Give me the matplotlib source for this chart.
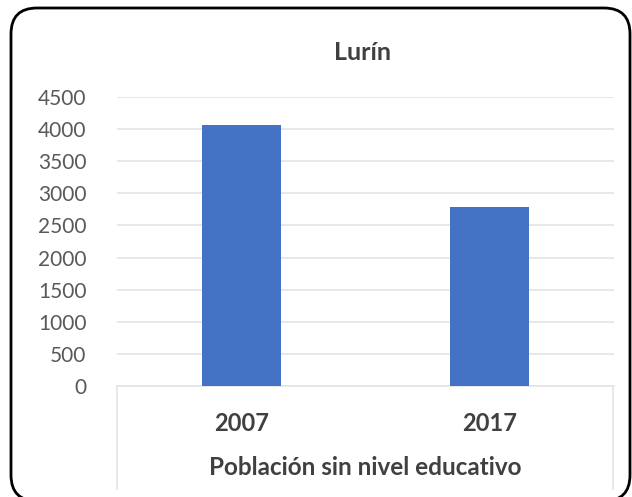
import matplotlib
matplotlib.use("Agg")
import matplotlib.pyplot as plt
import matplotlib.patches as mpatches
from matplotlib.lines import Line2D
import numpy as np

plt.rcParams['font.family'] = ['Lato', 'DejaVu Sans']

years = ['2007', '2017']
poblacion = [4060, 2785]
yticks = [0, 500, 1000, 1500, 2000, 2500, 3000, 3500, 4000, 4500]

BAR = '#4472c4'
TEXT = '#595959'
DARK = '#404040'
GRID = '#e4e4e4'

fig = plt.figure(figsize=(6.32, 4.97), dpi=100)
ax = fig.add_axes([117 / 632, 1 - 386 / 497, 497 / 632, 289 / 497])

x = np.arange(len(years))
ax.bar(x, poblacion, width=0.317, color=BAR, zorder=3)
ax.set_xlim(-0.5, 1.5)
ax.set_ylim(0, 4500)
ax.set_yticks(yticks)
ax.set_yticklabels([str(v) for v in yticks], fontsize=15, color=TEXT)
ax.tick_params(axis='y', length=0, pad=22)
ax.set_xticks(x)
ax.set_xticklabels(years, fontsize=17, fontweight='bold', color=DARK)
ax.tick_params(axis='x', length=0, pad=19)
ax.grid(axis='y', color=GRID, linewidth=1.2, zorder=0)
for s in ['top', 'right', 'left']:
    ax.spines[s].set_visible(False)
ax.spines['bottom'].set_color(GRID)
ax.spines['bottom'].set_linewidth(1.2)

ax.set_xlabel('Población sin nivel educativo', fontsize=17.5, fontweight='bold',
              color=DARK, labelpad=15)
fig.text(363 / 632, 1 - 52 / 497, 'Lurín', ha='center', va='center',
         fontsize=18, fontweight='bold', color=DARK)

# category box lines below the axis
for xp in [117, 613]:
    fig.add_artist(Line2D([xp / 632, xp / 632], [1 - 386 / 497, 1 - 489 / 497],
                          color=GRID, linewidth=1.2))

# rounded outer border
border = mpatches.FancyBboxPatch((0.11, -0.04), 6.19, 4.93,
                                 boxstyle="round,pad=0,rounding_size=0.26",
                                 transform=fig.dpi_scale_trans, facecolor='none',
                                 edgecolor='black', linewidth=2, clip_on=False)
fig.add_artist(border)

fig.savefig('out.png', dpi=100)
